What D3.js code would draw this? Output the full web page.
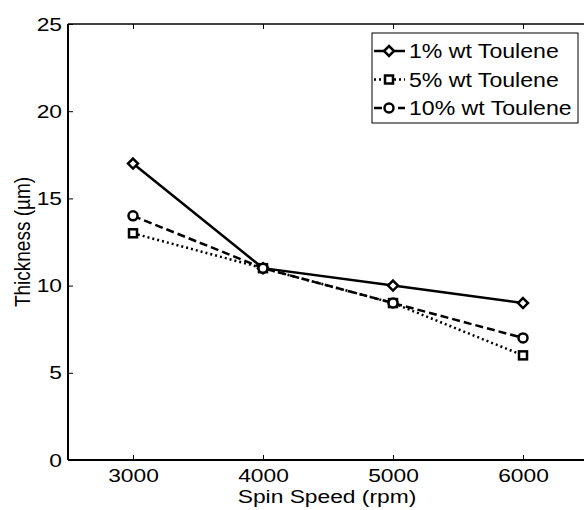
<html>
<head>
<meta charset="utf-8" />
<style>
  body { margin: 0; padding: 0; background: #fff; }
  svg { display: block; }
  text { font-family: 'Liberation Sans', Arial, sans-serif; fill: #000; }
  .series { fill: none; stroke: #000; stroke-width: 2.5; }
  .marker { fill: #fff; stroke: #000; stroke-width: 2.5; }
</style>
<script src="https://d3js.org/d3.v7.min.js"></script>
</head>
<body>
<script>
var speeds = [3000, 4000, 5000, 6000];
var thick1 = [17, 11, 10, 9];
var thick5 = [13, 11, 9, 6];
var thick10 = [14, 11, 9, 7];
var seriesNames = ["1% wt Toulene", "5% wt Toulene", "10% wt Toulene"];
var xTicks = [3000, 4000, 5000, 6000];
var yTicks = [0, 5, 10, 15, 20, 25];

var W = 584, H = 510;
var plotL = 68, plotT = 24, plotR = 588, plotB = 460;
var SX = 1.2; // the figure looks stretched sideways

var series = [
  { name: seriesNames[0], vals: thick1, dash: null, marker: "diamond" },
  { name: seriesNames[1], vals: thick5, dash: "2,3", marker: "square" },
  { name: seriesNames[2], vals: thick10, dash: "8,4", marker: "circle" }
];

var x = d3.scaleLinear().domain([2500, 6500]).range([plotL, plotR]);
var y = d3.scaleLinear().domain([0, 25]).range([plotB, plotT]);

var svg = d3.select("body").append("svg").attr("width", W).attr("height", H);

// stretch a text horizontally about its own x
function stretch(sel, k) {
  sel.each(function () {
    var t = d3.select(this);
    var tx = +t.attr("x") || 0;
    t.attr("transform", "translate(" + tx + ",0) scale(" + k + ",1) translate(" + (-tx) + ",0)");
  });
}

var xAxis = d3.axisBottom(x).tickValues(xTicks).tickSize(-5).tickPadding(9).tickFormat(d3.format("d"));
var yAxis = d3.axisLeft(y).tickValues(yTicks).tickSize(-5).tickPadding(6).tickFormat(d3.format("d"));
var xTop = d3.axisTop(x).tickValues(xTicks).tickSize(-5).tickFormat("");

function styleAxis(g) {
  g.select(".domain").remove();
  g.selectAll("line").attr("stroke", "#000").attr("stroke-width", 1);
  g.selectAll("text").style("font-size", "19px").attr("fill", "#000").call(stretch, SX);
}

svg.append("g").attr("transform", "translate(0," + plotB + ")").call(xAxis).call(styleAxis);
svg.append("g").attr("transform", "translate(" + plotL + ",0)").call(yAxis).call(styleAxis);
svg.append("g").attr("transform", "translate(0," + plotT + ")").call(xTop).call(styleAxis);

svg.append("line").attr("x1", plotL).attr("x2", plotR).attr("y1", plotB).attr("y2", plotB).attr("stroke", "#000").attr("stroke-width", 2);
svg.append("line").attr("x1", plotL).attr("x2", plotR).attr("y1", plotT).attr("y2", plotT).attr("stroke", "#000").attr("stroke-width", 1.5);
svg.append("line").attr("x1", plotL).attr("x2", plotL).attr("y1", plotT).attr("y2", plotB).attr("stroke", "#000").attr("stroke-width", 2);

var line = d3.line().x(function (d, i) { return x(speeds[i]); }).y(function (d) { return y(d); });

function drawMarker(g, type, cx, cy) {
  if (type === "diamond") {
    g.append("path").attr("class", "marker")
      .attr("d", "M" + cx + "," + (cy - 5) + "L" + (cx + 5) + "," + cy + "L" + cx + "," + (cy + 5) + "L" + (cx - 5) + "," + cy + "Z");
  } else if (type === "square") {
    g.append("rect").attr("class", "marker").attr("x", cx - 4).attr("y", cy - 4).attr("width", 8).attr("height", 8);
  } else {
    g.append("circle").attr("class", "marker").attr("cx", cx).attr("cy", cy).attr("r", 4.5);
  }
}

series.forEach(function (s) {
  var g = svg.append("g");
  g.append("path").datum(s.vals).attr("class", "series").attr("d", line)
    .attr("stroke-dasharray", s.dash);
  s.vals.forEach(function (v, i) { drawMarker(g, s.marker, x(speeds[i]), y(v)); });
});

// axis titles
svg.append("text").attr("x", 327).attr("y", 503).attr("text-anchor", "middle")
  .style("font-size", "19px").text("Spin Speed (rpm)").call(stretch, SX);
svg.append("text").attr("transform", "translate(30," + ((plotT + plotB) / 2) + ") scale(" + SX + ",1) rotate(-90)")
  .attr("text-anchor", "middle").style("font-size", "19px").text("Thickness (µm)");

// legend
var lg = svg.append("g");
lg.append("rect").attr("x", 372).attr("y", 33).attr("width", 206).attr("height", 90)
  .attr("fill", "#fff").attr("stroke", "#000").attr("stroke-width", 1);
series.forEach(function (s, i) {
  var cy = 51 + i * 28.5;
  lg.append("line").attr("x1", 374).attr("x2", 405).attr("y1", cy).attr("y2", cy)
    .attr("class", "series").attr("stroke-dasharray", s.dash);
  drawMarker(lg, s.marker, 389, cy);
  lg.append("text").attr("x", 409).attr("y", cy + 7.5).style("font-size", "21px").text(s.name).call(stretch, 1.1);
});
</script>
</body>
</html>
